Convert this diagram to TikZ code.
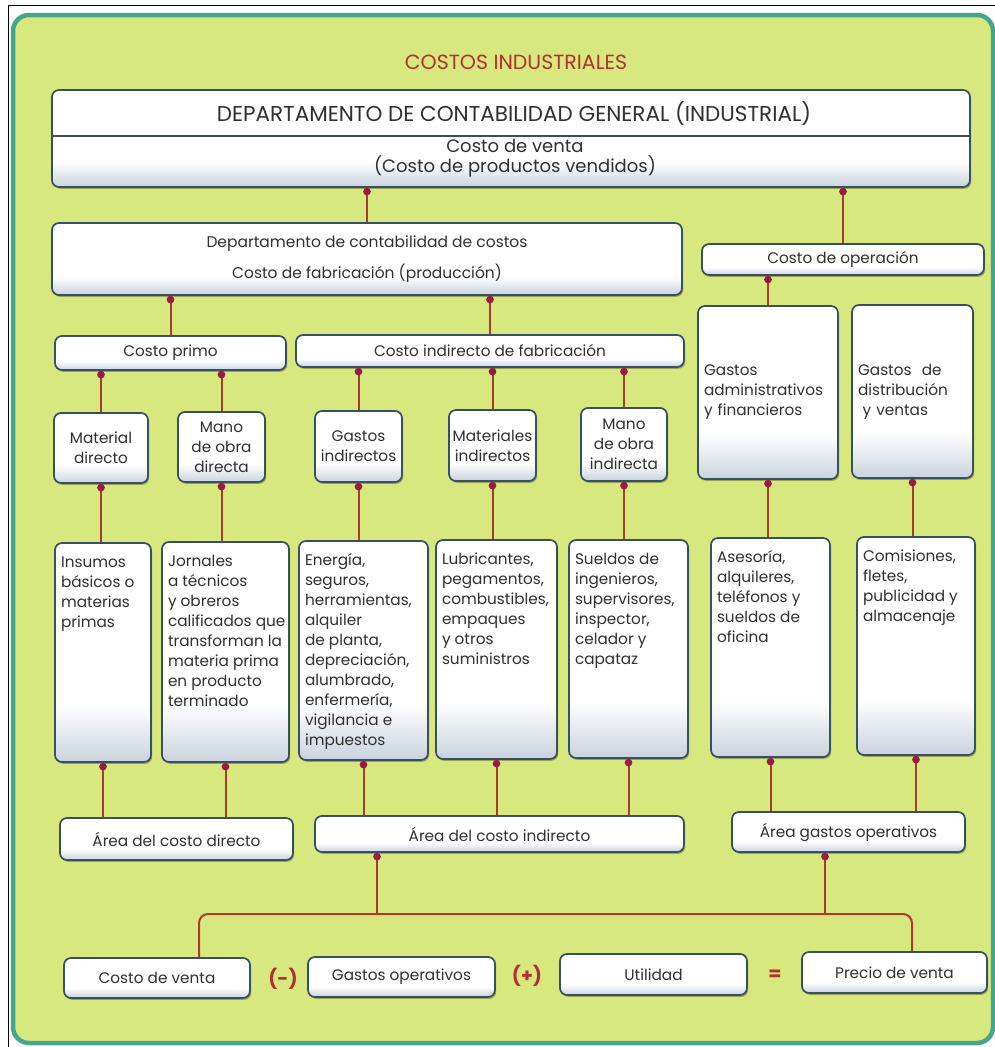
\documentclass[tikz,border=0pt]{standalone}
\usepackage{fontspec}
\setmainfont{Poppins}
\usetikzlibrary{shadows,arrows.meta}

\definecolor{panelfill}{HTML}{D7E87E}
\definecolor{panelrim}{HTML}{46A68D}
\definecolor{boxline}{HTML}{3A5062}
\definecolor{boxshade}{HTML}{C9D3DE}
\definecolor{linkred}{HTML}{A63D2E}
\definecolor{dotred}{HTML}{9A1A42}
\definecolor{titlered}{HTML}{B3302E}
\definecolor{ink}{HTML}{303030}

% white face with a soft blue-grey glow along the lower edge
\pgfdeclareverticalshading{boxglow}{100bp}{color(0bp)=(boxshade); color(25bp)=(boxshade);
  color(38bp)=(white); color(75bp)=(white); color(100bp)=(white)}

% top-aligned list of lines inside a fixed-size box
\newcommand{\topText}[3]{\parbox[c][#1][t]{#2}{\begin{tabular}[t]{@{}l@{}}#3\end{tabular}}}

\begin{document}
\begin{tikzpicture}[x=1pt, y=-1pt,
  txt/.style={font=\fontsize{15.3}{20}\selectfont, text=ink},
  box/.style={txt, draw=boxline, line width=1.7pt, rounded corners=7pt,
    shading=boxglow, inner sep=0pt, align=center,
    drop shadow={shadow xshift=1.2pt, shadow yshift=-1.8pt, opacity=0.3, fill=black}},
  tall/.style={box, inner xsep=6pt, inner ysep=10pt},
  link/.style={draw=linkred, line width=2pt,
    arrows={Circle[length=7.5pt,width=7.5pt,color=dotred]-}},
  trunk/.style={draw=linkred, line width=2pt, rounded corners=9pt},
  op/.style={font=\fontsize{19}{20}\selectfont\bfseries, text=titlered},
]
% page and coloured panel
\fill[white] (0,0) rectangle (995,1047);
\useasboundingbox (0,0) rectangle (995,1047);
\draw[black, line width=1pt] (8,1047) -- (8,5) -- (995,5);
\draw[panelrim, line width=4.5pt, fill=panelfill, rounded corners=16pt] (13,15) rectangle (993,1043);

% heading
\node[font=\fontsize{20.5}{22}\selectfont, text=titlered] (title) at (516,62) {COSTOS INDUSTRIALES};

% general accounting department
\node[box, minimum width=918pt, minimum height=97pt] (gen) at (511,138.5) {};
\draw[boxline, line width=1.4pt] (gen.west |- 0,136) -- (gen.east |- 0,136);
\node[txt, font=\fontsize{21.5}{22}\selectfont] (genT) at (514,113) {DEPARTAMENTO DE CONTABILIDAD GENERAL (INDUSTRIAL)};
\node[txt, font=\fontsize{18}{20}\selectfont, align=center] (genS) at (515,158) {Costo de venta\\(Costo de productos vendidos)};

% second level
\node[box, minimum width=630pt, minimum height=72pt, font=\fontsize{15.5}{31}\selectfont] (fab) at (367,259)
  {Departamento de contabilidad de costos\\Costo de fabricación (producción)};
\node[box, minimum width=282pt, minimum height=31pt] (oper) at (843,259.5) {Costo de operación};

% third level
\node[box, minimum width=231pt, minimum height=34pt] (primo) at (170.5,353) {Costo primo};
\node[box, minimum width=388pt, minimum height=32pt] (cif) at (490,351) {Costo indirecto de fabricación};
\node[box, minimum width=140pt, minimum height=173pt, text width=128pt, align=left] (gadm) at (768,392.5)
  {Gastos\\administrativos\\y financieros};
\node[box, minimum width=121pt, minimum height=173pt, text width=109pt, align=left] (gdis) at (912.5,391.5)
  {Gastos\ \ de\\distribución\\\hspace{0.3em}y ventas};

% fourth level
\node[box, minimum width=94pt, minimum height=70pt] (md) at (101,448) {Material\\directo};
\node[box, minimum width=87pt, minimum height=70pt] (mod) at (221.5,447) {Mano\\de obra\\directa};
\node[box, minimum width=87pt, minimum height=71pt] (gi) at (358.5,446.5) {Gastos\\indirectos};
\node[box, minimum width=87pt, minimum height=71pt] (mi) at (492.5,445.5) {Materiales\\indirectos};
\node[box, minimum width=86pt, minimum height=73pt] (moi) at (624,444.5) {Mano\\de obra\\indirecta};

% detail boxes
\node[tall, minimum width=96pt, minimum height=219pt] (ins) at (103,652.5)
  {\topText{199pt}{84pt}{Insumos\\básicos o\\materias\\primas}};
\node[tall, minimum width=127pt, minimum height=220pt] (jor) at (225.5,652)
  {\topText{200pt}{115pt}{Jornales\\a técnicos\\y obreros\\calificados que\\transforman la\\materia prima\\en producto\\terminado}};
\node[tall, minimum width=129pt, minimum height=219pt] (ene) at (363.5,650.5)
  {\topText{199pt}{117pt}{Energía,\\seguros,\\herramientas,\\alquiler\\de planta,\\depreciación,\\alumbrado,\\enfermería,\\vigilancia e\\impuestos}};
\node[tall, minimum width=121pt, minimum height=219pt] (lub) at (496.5,649.5)
  {\topText{199pt}{109pt}{Lubricantes,\\pegamentos,\\combustibles,\\empaques\\y otros\\suministros}};
\node[tall, minimum width=119pt, minimum height=218pt] (sue) at (628.5,649)
  {\topText{198pt}{107pt}{Sueldos de\\ingenieros,\\supervisores,\\inspector,\\celador y\\capataz}};
\node[tall, minimum width=119pt, minimum height=219pt] (ase) at (770.5,647.5)
  {\topText{199pt}{107pt}{Asesoría,\\alquileres,\\teléfonos y\\sueldos de\\oficina}};
\node[tall, minimum width=118pt, minimum height=218pt] (com) at (916,646)
  {\topText{198pt}{106pt}{Comisiones,\\fletes,\\publicidad y\\almacenaje}};

% cost areas
\node[box, minimum width=233pt, minimum height=42pt] (adir) at (176.5,839) {Área del costo directo};
\node[box, minimum width=369pt, minimum height=36pt] (aind) at (499.5,834) {Área del costo indirecto};
\node[box, minimum width=233pt, minimum height=40pt] (agop) at (848.5,832) {Área gastos operativos};

% price equation
\node[box, minimum width=186pt, minimum height=40pt] (cv) at (157,978) {Costo de venta};
\node[op] (minus) at (283,979) {(-)};
\node[box, minimum width=187pt, minimum height=40pt] (gop) at (401.5,977) {Gastos operativos};
\node[op] (plus) at (527,976) {(+)};
\node[box, minimum width=187pt, minimum height=41pt] (uti) at (653.5,974.5) {Utilidad};
\node[op] (eq) at (775,975) {=};
\node[box, minimum width=185pt, minimum height=41pt] (pv) at (894.5,972.5) {Precio de venta};

% connectors
\draw[link] (gen.south -| fab.north) -- (fab.north);
\draw[link] (gen.south -| oper.north) -- (oper.north);
\draw[link] (fab.south -| primo.north) -- (primo.north);
\draw[link] (fab.south -| cif.north) -- (cif.north);
\draw[link] (oper.south -| gadm.north) -- (gadm.north);
\draw[link] (primo.south -| md.north) -- (md.north);
\draw[link] (primo.south -| mod.north) -- (mod.north);
\draw[link] (cif.south -| gi.north) -- (gi.north);
\draw[link] (cif.south -| mi.north) -- (mi.north);
\draw[link] (cif.south -| moi.north) -- (moi.north);

\draw[link] (md.south) -- (md.south |- ins.north);
\draw[link] (mod.south) -- (mod.south |- jor.north);
\draw[link] (gi.south) -- (gi.south |- ene.north);
\draw[link] (mi.south) -- (mi.south |- lub.north);
\draw[link] (moi.south) -- (moi.south |- sue.north);
\draw[link] (gadm.south) -- (gadm.south |- ase.north);
\draw[link] (gdis.south) -- (gdis.south |- com.north);

\draw[link] (ins.south) -- (ins.south |- adir.north);
\draw[link] (jor.south) -- (jor.south |- adir.north);
\draw[link] (ene.south) -- (ene.south |- aind.north);
\draw[link] (lub.south) -- (lub.south |- aind.north);
\draw[link] (sue.south) -- (sue.south |- aind.north);
\draw[link] (ase.south) -- (ase.south |- agop.north);
\draw[link] (com.south) -- (com.south |- agop.north);

% bottom branch
\coordinate (jl) at (199,914);
\coordinate (jr) at (912,914);
\coordinate (ja) at (377,914);
\coordinate (jb) at (825,914);
\draw[link] (aind.south -| ja) -- (ja);
\draw[link] (agop.south -| jb) -- (jb);
\draw[trunk] (cv.north -| jl) -- (jl) -- (jr) -- (pv.north -| jr);
\end{tikzpicture}
\end{document}
